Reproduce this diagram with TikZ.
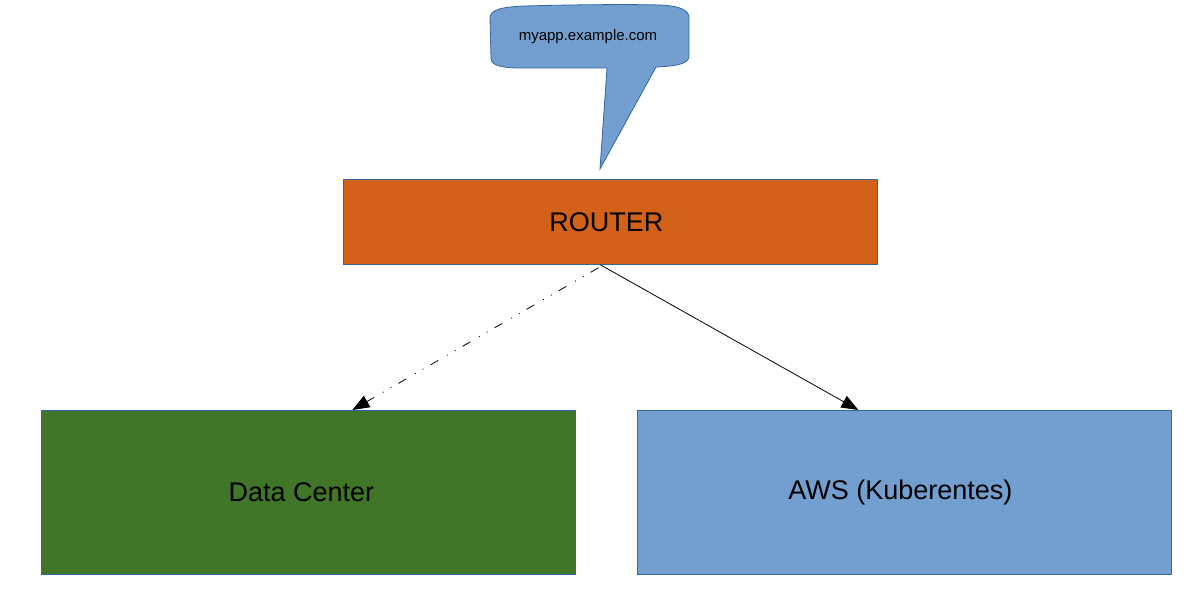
\documentclass[tikz,border=0pt]{standalone}
\usepackage{fontspec}
\setmainfont{Liberation Sans}
\usetikzlibrary{arrows.meta,calc}
\definecolor{routerc}{HTML}{D46119}
\definecolor{dcc}{HTML}{3F7627}
\definecolor{awsc}{HTML}{729FCF}
\definecolor{bordc}{HTML}{3465A4}
\tikzset{
  boxst/.style={draw=bordc, line width=0.8pt, inner sep=0pt, anchor=north west,
    minimum width=534pt, font=\fontsize{27}{32}\selectfont, text=black},
  arr/.style={line width=0.8pt, -{Triangle[length=17pt,width=13pt]}},
  dashdotdot/.style={dash pattern=on 9pt off 8pt on 1pt off 8pt on 1pt off 10pt}
}
\begin{document}
\begin{tikzpicture}[x=1pt,y=-1pt]
\useasboundingbox[fill=white] (0,0) rectangle (1192,594);
% callout
\draw[fill=awsc, draw=bordc, line width=0.8pt]
  (607,68) -- (600,169) -- (656,67)
  .. controls (680,66) and (689,63) .. (689,56) -- (689,18)
  .. controls (689,10) and (680,6) .. (660,5)
  .. controls (620,4) and (560,5) .. (525,6)
  .. controls (500,7) and (490,10) .. (490,18)
  -- (491,58) .. controls (491,65) and (500,68) .. (520,68) -- cycle;
\node[font=\fontsize{15}{18}\selectfont] (url) at (588,37) {myapp.example.com};
% boxes
\node[boxst, fill=routerc, minimum height=85pt] (router) at (343,179) {\hspace*{-8pt}ROUTER};
\node[boxst, fill=dcc, minimum height=164pt] (dc) at (41,410) {\hspace*{-14pt}Data Center};
\node[boxst, fill=awsc, minimum height=164pt] (aws) at (637,410) {\hspace*{-8pt}AWS (Kuberentes)};
% connectors
\draw[arr, dashdotdot] ($(router.south)+(-12,3)$) -- ($(dc.north)+(44,0)$);
\draw[arr] ($(router.south)+(-10,0)$) -- ($(aws.north)+(-46,0)$);
\end{tikzpicture}
\end{document}
